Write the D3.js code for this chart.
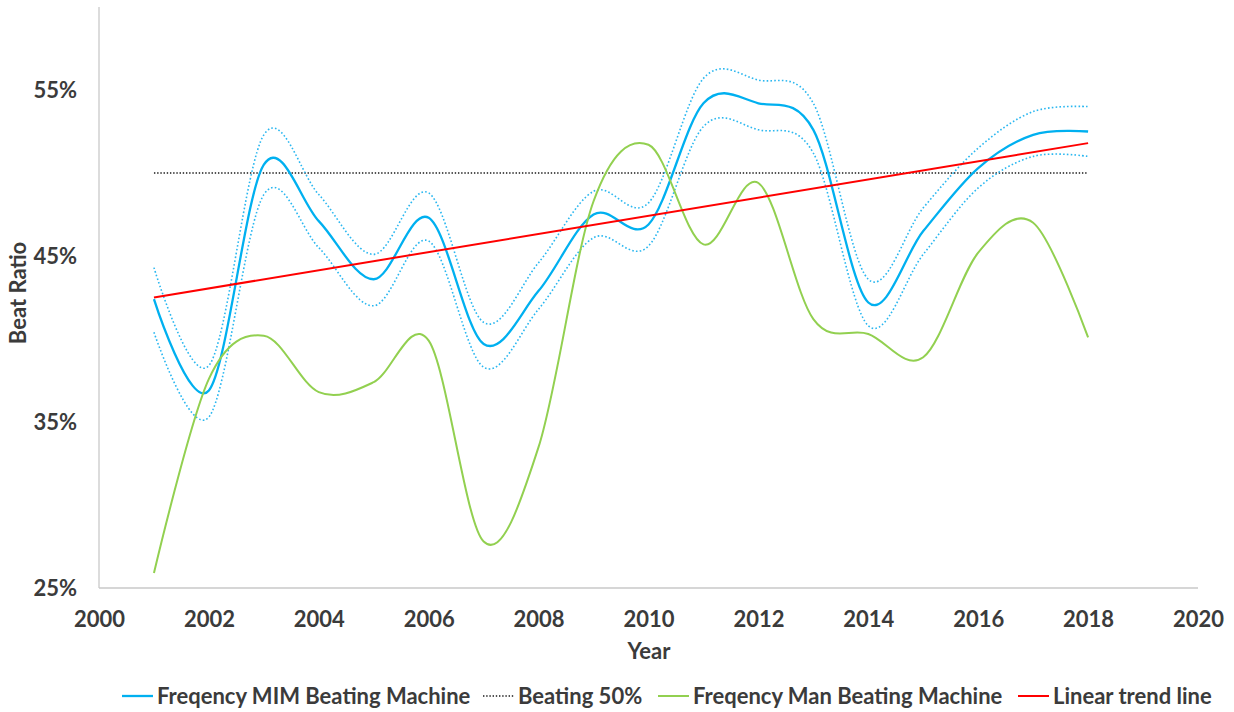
<!DOCTYPE html>
<html>
<head>
<meta charset="utf-8">
<script src="https://cdn.jsdelivr.net/npm/d3@7"></script>
<style>
  html, body { margin: 0; padding: 0; background: #fff; }
  svg text { font-family: Lato, "Open Sans", sans-serif; font-weight: bold; fill: #3b3b3b; }
</style>
</head>
<body>
<svg id="chart" width="1234" height="712"></svg>
<script>
// ---- data ----
const years = [2001, 2002, 2003, 2004, 2005, 2006, 2007, 2008, 2009, 2010, 2011, 2012, 2013, 2014, 2015, 2016, 2017, 2018];
const mimValues = [42.4, 36.9, 50.5, 47.1, 43.6, 47.3, 39.7, 42.9, 47.5, 46.9, 54.2, 54.2, 52.6, 42.2, 46.5, 50.3, 52.3, 52.5];
const mimUpper  = [44.3, 38.4, 52.3, 48.7, 45.1, 48.8, 41.0, 44.6, 48.9, 48.2, 55.7, 55.6, 54.2, 43.6, 47.9, 51.5, 53.7, 54.0];
const mimLower  = [40.4, 35.3, 48.7, 45.5, 42.0, 45.9, 38.3, 41.8, 46.1, 45.6, 52.8, 52.6, 51.2, 40.8, 45.1, 49.1, 51.0, 51.0];
const manValues = [25.9, 37.6, 40.2, 36.8, 37.4, 39.9, 27.8, 33.5, 48.3, 51.7, 45.7, 49.4, 41.2, 40.3, 38.9, 45.2, 47.0, 40.1];
const thresholdYears = [2001, 2018];
const thresholdValues = [50, 50];
const trendYears = [2001, 2018];
const trendValues = [42.5, 51.8];
const xTicks = [2000, 2002, 2004, 2006, 2008, 2010, 2012, 2014, 2016, 2018, 2020];
const yTicks = [25, 35, 45, 55];
const legendLabels = ["Freqency MIM Beating Machine", "Beating 50%", "Freqency Man Beating Machine", "Linear trend line"];

(function () {
// ---- layout ----
const svg = d3.select("#chart");
const pl = 99, pr = 1198, pt = 7, pb = 588;
const x = d3.scaleLinear().domain([2000, 2020]).range([pl, pr]);
const y = d3.scaleLinear().domain([25, 60]).range([pb, pt]);
const FS = 22;

// axes
const yAxis = d3.axisLeft(y).tickValues(yTicks).tickSize(0).tickPadding(22).tickFormat(d => d + "%");
const xAxis = d3.axisBottom(x).tickValues(xTicks).tickSize(0).tickPadding(23).tickFormat(d3.format("d"));

const gy = svg.append("g").attr("transform", `translate(${pl},0)`).call(yAxis);
const gx = svg.append("g").attr("transform", `translate(0,${pb})`).call(xAxis);
[gx, gy].forEach(g => {
  g.select(".domain").attr("stroke", "#c9c9c9").attr("stroke-width", 1.3);
  g.selectAll("text").style("font-size", FS + "px").attr("fill", "#3b3b3b").attr("font-family", null);
});
gy.select(".domain").attr("d", `M0,${pt}V${pb}`);
gx.select(".domain").attr("d", `M${pl},0H${pr}`);

// titles
svg.append("text").attr("x", 649).attr("y", 659).attr("text-anchor", "middle").style("font-size", FS + "px").text("Year");
svg.append("text").attr("transform", "translate(26,293) rotate(-90)").attr("text-anchor", "middle").style("font-size", FS + "px").text("Beat Ratio");

// lines
const curve = d3.curveCardinal.tension(0);
const mk = vals => d3.line().x((d, i) => x(years[i])).y(d => y(d)).curve(curve)(vals);

const plot = svg.append("g");
plot.append("path").attr("d", d3.line().x((d, i) => x(thresholdYears[i])).y(d => y(d))(thresholdValues))
  .attr("fill", "none").attr("stroke", "#1a1a1a").attr("stroke-width", 1.3).attr("stroke-dasharray", "1.4,1.8");
plot.append("path").attr("d", mk(mimUpper)).attr("fill", "none").attr("stroke", "#2ab7f0").attr("stroke-width", 1.6).attr("stroke-dasharray", "1.6,2.2");
plot.append("path").attr("d", mk(mimLower)).attr("fill", "none").attr("stroke", "#2ab7f0").attr("stroke-width", 1.6).attr("stroke-dasharray", "1.6,2.2");
plot.append("path").attr("d", mk(mimValues)).attr("fill", "none").attr("stroke", "#00b0f0").attr("stroke-width", 2.3);
plot.append("path").attr("d", mk(manValues)).attr("fill", "none").attr("stroke", "#92d050").attr("stroke-width", 2);
plot.append("path").attr("d", d3.line().x((d, i) => x(trendYears[i])).y(d => y(d))(trendValues))
  .attr("fill", "none").attr("stroke", "#ff0000").attr("stroke-width", 2);

// legend
const legendStyles = [
  {stroke: "#00b0f0", width: 2.3, dash: null},
  {stroke: "#1a1a1a", width: 1.3, dash: "1.4,1.8"},
  {stroke: "#92d050", width: 2, dash: null},
  {stroke: "#ff0000", width: 2, dash: null}
];
const legendX = [122, 483, 658, 1018];
const lg = svg.append("g");
legendLabels.forEach((lab, i) => {
  const g = lg.append("g").attr("transform", `translate(${legendX[i]},696)`);
  g.append("line").attr("x1", 0).attr("x2", 31).attr("y1", 0).attr("y2", 0)
    .attr("stroke", legendStyles[i].stroke).attr("stroke-width", legendStyles[i].width)
    .attr("stroke-dasharray", legendStyles[i].dash);
  g.append("text").attr("x", 35).attr("y", 8).style("font-size", FS + "px").text(lab);
});
})();
</script>
</body>
</html>
